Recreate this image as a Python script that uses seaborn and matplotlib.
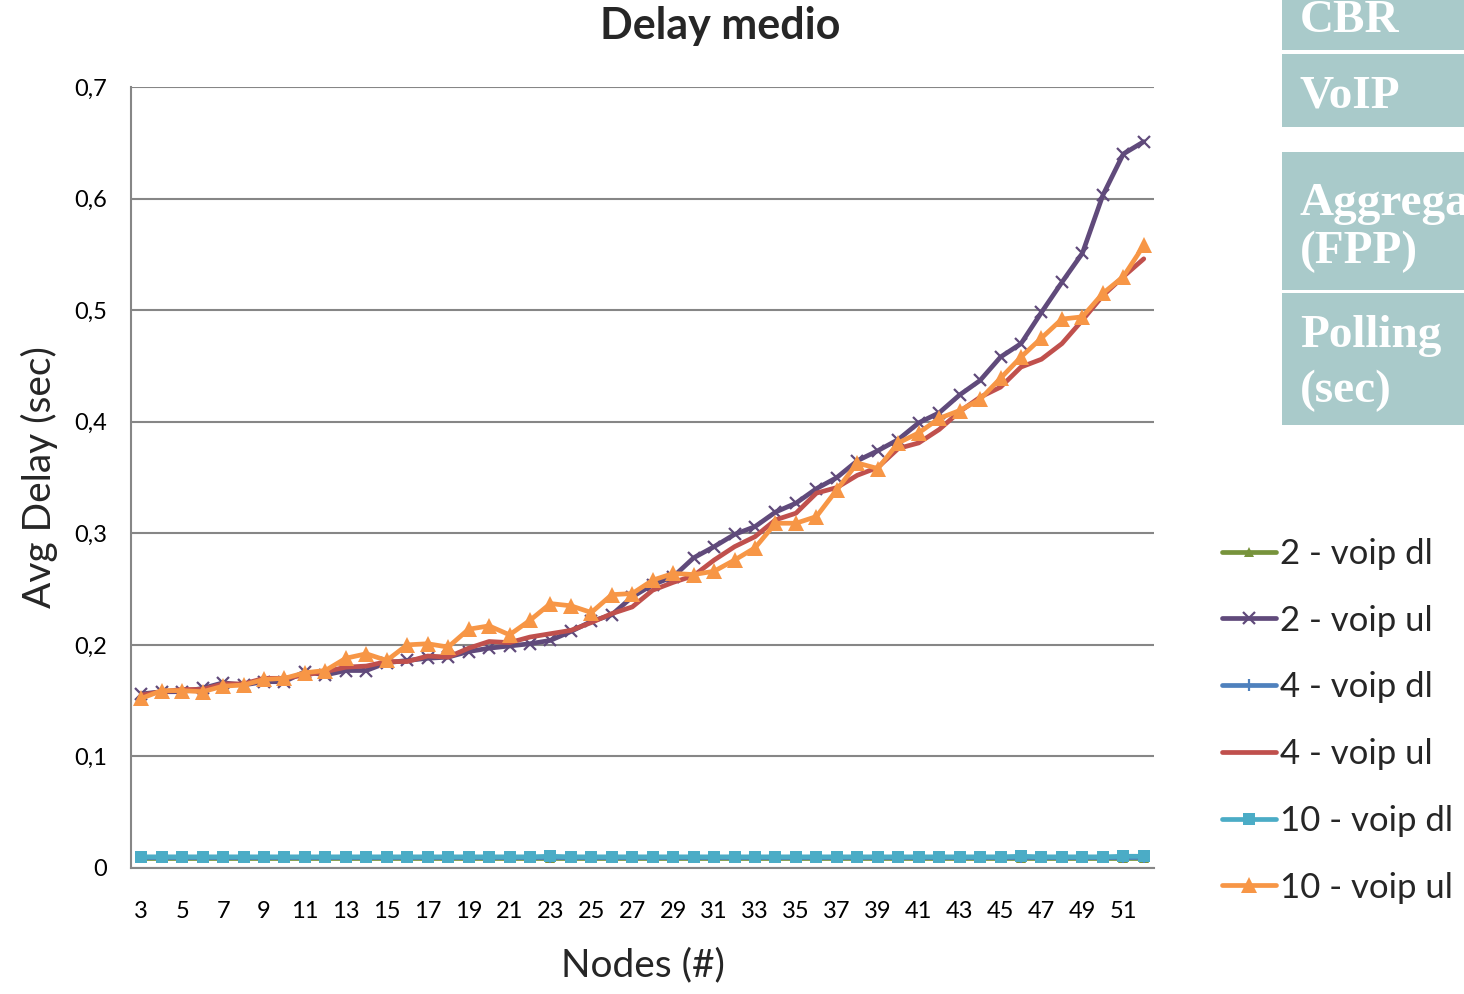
import numpy as np
import pandas as pd
import matplotlib
matplotlib.use("Agg")
import matplotlib.pyplot as plt
from matplotlib.patches import Rectangle
from matplotlib.ticker import FixedLocator, NullFormatter
import seaborn as sns

nodes = list(range(3, 53))

voip_dl_2 = [0.0092] * 50
voip_ul_2 = [0.156, 0.158, 0.158, 0.161, 0.166, 0.164, 0.167, 0.167, 0.176, 0.173,
             0.177, 0.177, 0.184, 0.186, 0.188, 0.189, 0.194, 0.197, 0.199, 0.201,
             0.204, 0.212, 0.221, 0.227, 0.243, 0.254, 0.261, 0.278, 0.288, 0.299,
             0.306, 0.319, 0.327, 0.340, 0.350, 0.365, 0.374, 0.384, 0.399, 0.408,
             0.424, 0.437, 0.458, 0.470, 0.498, 0.525, 0.551, 0.603, 0.640, 0.651]
voip_dl_4 = [0.0095] * 50
voip_ul_4 = [0.155, 0.158, 0.160, 0.160, 0.165, 0.165, 0.170, 0.170, 0.173, 0.176,
             0.180, 0.181, 0.185, 0.185, 0.190, 0.189, 0.197, 0.203, 0.202, 0.207,
             0.210, 0.213, 0.220, 0.228, 0.234, 0.249, 0.256, 0.262, 0.276, 0.288,
             0.297, 0.312, 0.318, 0.336, 0.341, 0.352, 0.359, 0.376, 0.381, 0.393,
             0.409, 0.422, 0.431, 0.449, 0.456, 0.470, 0.491, 0.513, 0.530, 0.546]
voip_dl_10 = [0.010, 0.010, 0.010, 0.010, 0.010, 0.010, 0.010, 0.010, 0.010, 0.010,
              0.010, 0.010, 0.010, 0.010, 0.010, 0.010, 0.010, 0.010, 0.010, 0.010,
              0.0105, 0.010, 0.010, 0.010, 0.010, 0.010, 0.010, 0.010, 0.010, 0.010,
              0.010, 0.010, 0.010, 0.010, 0.010, 0.010, 0.010, 0.010, 0.010, 0.010,
              0.010, 0.010, 0.010, 0.0105, 0.010, 0.010, 0.010, 0.010, 0.0105, 0.0105]
voip_ul_10 = [0.152, 0.159, 0.159, 0.158, 0.163, 0.164, 0.169, 0.170, 0.175, 0.177,
              0.188, 0.192, 0.186, 0.200, 0.201, 0.198, 0.214, 0.217, 0.209, 0.222,
              0.237, 0.235, 0.229, 0.245, 0.246, 0.258, 0.264, 0.263, 0.266, 0.276,
              0.287, 0.309, 0.309, 0.315, 0.339, 0.363, 0.358, 0.381, 0.390, 0.403,
              0.410, 0.420, 0.439, 0.458, 0.475, 0.492, 0.494, 0.515, 0.530, 0.558]

series_names = ["2 - voip dl", "2 - voip ul", "4 - voip dl", "4 - voip ul",
                "10 - voip dl", "10 - voip ul"]
series_values = [voip_dl_2, voip_ul_2, voip_dl_4, voip_ul_4, voip_dl_10, voip_ul_10]
y_ticks = [0, 0.1, 0.2, 0.3, 0.4, 0.5, 0.6, 0.7]
y_tick_labels = ["0", "0,1", "0,2", "0,3", "0,4", "0,5", "0,6", "0,7"]
x_tick_values = list(range(3, 52, 2))

df = pd.DataFrame({"Nodes": nodes})
for name, vals in zip(series_names, series_values):
    df[name] = vals
long = df.melt(id_vars="Nodes", var_name="series", value_name="delay")

sns.set_theme(style="white")
plt.rcParams["font.family"] = ["Lato", "DejaVu Sans"]

W, H = 1464, 994
fig = plt.figure(figsize=(W / 100, H / 100), dpi=100)
ax = fig.add_axes([131 / W, 1 - 868 / H, (1154 - 131) / W, (868 - 87) / H])

styles = {
    "2 - voip dl": dict(color="#77933C", marker="^", markersize=7, mew=0),
    "2 - voip ul": dict(color="#604A7B", marker="x", markersize=8, mew=1.6),
    "4 - voip dl": dict(color="#4F81BD", marker="+", markersize=9, mew=1.6),
    "4 - voip ul": dict(color="#C0504D", marker=None),
    "10 - voip dl": dict(color="#4BACC6", marker="s", markersize=9, mew=0),
    "10 - voip ul": dict(color="#F79646", marker="^", markersize=11, mew=0),
}

for name in series_names:
    st = styles[name]
    sub = long[long["series"] == name]
    kw = dict(color=st["color"], linewidth=3.4, label=name, ax=ax)
    if st["marker"] is not None:
        kw.update(marker=st["marker"], markersize=st["markersize"],
                  markeredgewidth=st["mew"], markeredgecolor=st["color"])
    sns.lineplot(data=sub, x="Nodes", y="delay", **kw)

ax.set_xlim(2.5, 52.5)
ax.set_ylim(0, 0.7)
ax.set_yticks(y_ticks)
ax.set_yticklabels(y_tick_labels, fontsize=17)
ax.set_xticks(x_tick_values)
ax.set_xticklabels([str(v) for v in x_tick_values], fontsize=17)
ax.xaxis.set_minor_locator(FixedLocator(np.arange(2.5, 53, 1.0)))
ax.xaxis.set_minor_formatter(NullFormatter())
ax.tick_params(axis="x", which="major", length=0, pad=24)
ax.tick_params(axis="x", which="minor", length=6, width=1.2, color="#868686", direction="out")
ax.tick_params(axis="y", which="major", length=7, width=1.2, color="#868686", direction="out", pad=10)
ax.tick_params(axis="both", labelcolor="black")
ax.grid(axis="y", color="#868686", linewidth=1.5)
ax.grid(axis="x", visible=False)
ax.set_axisbelow(True)
for s in ["top", "right"]:
    ax.spines[s].set_visible(False)
for s in ["left", "bottom"]:
    ax.spines[s].set_color("#868686")
    ax.spines[s].set_linewidth(1.5)

ax.set_xlabel("Nodes (#)", fontsize=28, labelpad=18)
ax.set_ylabel("Avg Delay (sec)", fontsize=28, labelpad=12)

fig.text(720 / W, 1 - 26 / H, "Delay medio", fontsize=31, fontweight="bold",
         ha="center", va="center")

leg = ax.legend(loc="upper left", bbox_to_anchor=(1208 / W, 1 - 524 / H),
                bbox_transform=fig.transFigure, frameon=False, fontsize=25,
                handlelength=1.55, handletextpad=0.12, labelspacing=1.0,
                borderaxespad=0)

# background slide boxes
box_color = "#A9CACA"
boxes = [(1282, 0, 182, 50), (1282, 54, 182, 73), (1282, 152, 182, 138), (1282, 293, 182, 132)]
for (bx, by, bw, bh) in boxes:
    fig.add_artist(Rectangle((bx / W, 1 - (by + bh) / H), bw / W, bh / H,
                             transform=fig.transFigure, facecolor=box_color,
                             edgecolor="none", zorder=0))
serif = ["Liberation Serif", "DejaVu Serif"]
texts = [("CBR", 32), ("VoIP", 108), ("Aggregation", 215), ("(FPP)", 263),
         ("Polling", 347), ("(sec)", 402)]
for t, yb in texts:
    fig.text(1300 / W, 1 - yb / H, t, fontsize=34, fontweight="bold",
             family=serif, color="white", ha="left", va="baseline")

fig.savefig("out.png", dpi=100)
